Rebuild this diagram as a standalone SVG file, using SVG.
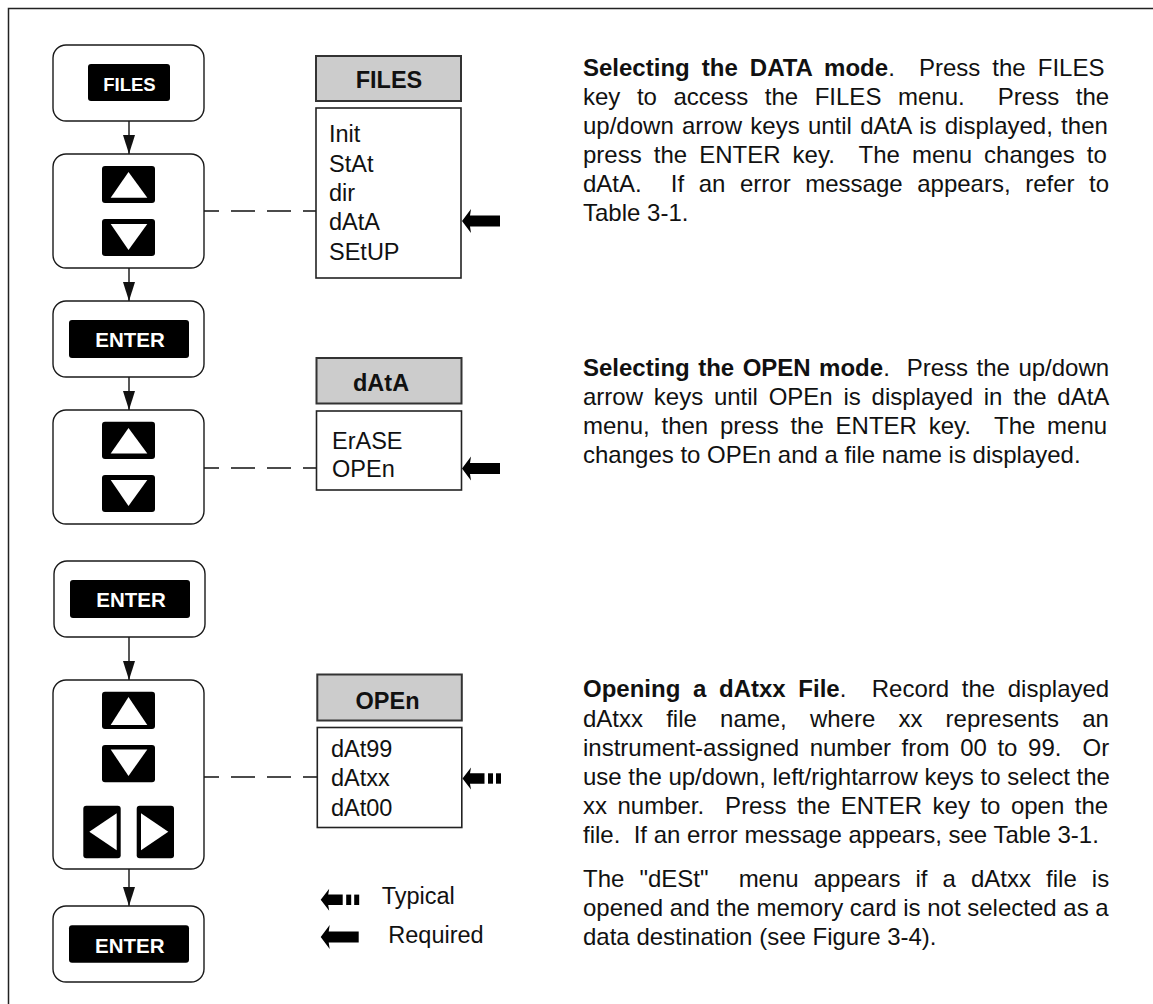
<svg xmlns="http://www.w3.org/2000/svg" width="1153" height="1004" viewBox="0 0 1153 1004">
<style>
.frame{fill:none;stroke:#222;stroke-width:1.5}
.node{fill:#fff;stroke:#1a1a1a;stroke-width:1.4}
.key{fill:#000}
.tri{fill:#fff}
.klabel{font-family:"Liberation Sans",Arial,sans-serif;font-weight:bold;fill:#fff;text-anchor:middle}
.hdr{fill:#cccccc;stroke:#333;stroke-width:2}
.list{fill:#fff;stroke:#222;stroke-width:1.6}
.hdrt{font-family:"Liberation Sans",Arial,sans-serif;font-weight:bold;font-size:23.5px;fill:#111}
.item{font-family:"Liberation Sans",Arial,sans-serif;font-size:23.5px;fill:#111}
.para{font-family:"Liberation Sans",Arial,sans-serif;font-size:24px;fill:#111}
.b{font-weight:bold}
.conn{stroke:#111;stroke-width:1.4;fill:none}
.dash{stroke:#111;stroke-width:1.4;fill:none;stroke-dasharray:15 12 24 12 24 12}
.ptr{fill:#000}
</style>
<defs>
<marker id="ah" markerUnits="userSpaceOnUse" viewBox="0 -7 20 14" markerWidth="20" markerHeight="14" refX="19" refY="0" orient="auto">
<path d="M0,-6 L19,0 L0,6 Z" fill="#111"/>
</marker>
<g id="req"><path class="ptr" d="M0,0 L9,-12 L8,-5.5 L38,-5.5 L38,5.5 L8,5.5 L9,12 Z"/></g>
<g id="typ"><path class="ptr" d="M0,0 L8.5,-11 L7.5,-5.2 L22,-5.2 L22,5.2 L7.5,5.2 L8.5,11 Z"/><rect class="ptr" x="25.5" y="-5.2" width="5" height="10.4"/><rect class="ptr" x="33.5" y="-5.2" width="5" height="10.4"/></g>
</defs>

<path class="frame" d="M8.5,1004 V8.5 H1153"/>

<g id="connectors">
<line class="conn" x1="129" y1="121" x2="129" y2="154" marker-end="url(#ah)"/>
<line class="conn" x1="129" y1="268" x2="129" y2="301" marker-end="url(#ah)"/>
<line class="conn" x1="129" y1="377" x2="129" y2="410" marker-end="url(#ah)"/>
<line class="conn" x1="129" y1="637" x2="129" y2="680" marker-end="url(#ah)"/>
<line class="conn" x1="129" y1="869" x2="129" y2="906" marker-end="url(#ah)"/>
<line class="dash" x1="204" y1="211" x2="316" y2="211"/>
<line class="dash" x1="204" y1="468" x2="316" y2="468"/>
<line class="dash" x1="204" y1="777" x2="317" y2="777"/>
</g>

<g id="key-files">
<rect class="node" x="53" y="45" width="151" height="76" rx="13"/>
<rect class="key" x="88" y="64" width="82" height="37" rx="3"/>
<text class="klabel" x="129.5" y="90.5" font-size="18.5">FILES</text>
</g>

<g id="key-updown-1">
<rect class="node" x="53" y="154" width="151" height="114" rx="13"/>
<rect class="key" x="102" y="166" width="53" height="37" rx="3"/>
<path class="tri" d="M128.5,172 L147.3,197.7 L110.7,197.7 Z"/>
<rect class="key" x="102" y="219" width="53" height="37" rx="3"/>
<path class="tri" d="M110.7,224 L147.3,224 L128.5,250 Z"/>
</g>

<g id="key-enter-1">
<rect class="node" x="53" y="301" width="151" height="76" rx="13"/>
<rect class="key" x="69" y="320" width="120" height="38" rx="3"/>
<text class="klabel" x="130" y="346.5" font-size="20.5">ENTER</text>
</g>

<g id="key-updown-2">
<rect class="node" x="53" y="410" width="151" height="114" rx="13"/>
<rect class="key" x="102" y="421.7" width="53" height="37.3" rx="3"/>
<path class="tri" d="M128.5,428 L147.3,453.5 L110.7,453.5 Z"/>
<rect class="key" x="102" y="475" width="53" height="37" rx="3"/>
<path class="tri" d="M110.7,480 L147.3,480 L128.5,506 Z"/>
</g>

<g id="key-enter-2">
<rect class="node" x="54" y="561" width="151" height="76" rx="13"/>
<rect class="key" x="70" y="580" width="120" height="38" rx="3"/>
<text class="klabel" x="131" y="606.5" font-size="20.5">ENTER</text>
</g>

<g id="key-arrows-3">
<rect class="node" x="53" y="680" width="151" height="189" rx="13"/>
<rect class="key" x="102" y="691.7" width="53" height="37.3" rx="3"/>
<path class="tri" d="M128.5,697 L147.3,725 L110.7,725 Z"/>
<rect class="key" x="102" y="745" width="53" height="37.3" rx="3"/>
<path class="tri" d="M110.7,749.5 L147.3,749.5 L128.5,776 Z"/>
<rect class="key" x="83.3" y="805.7" width="37.4" height="52.6" rx="3"/>
<path class="tri" d="M89.3,831.8 L116.7,813.3 L116.7,850.3 Z"/>
<rect class="key" x="136.7" y="805.7" width="37.3" height="52.6" rx="3"/>
<path class="tri" d="M141,813.3 L168.3,831.8 L141,850.3 Z"/>
</g>

<g id="key-enter-3">
<rect class="node" x="53" y="906" width="151" height="76" rx="13"/>
<rect class="key" x="69" y="925.3" width="120" height="37.4" rx="3"/>
<text class="klabel" x="129.7" y="953" font-size="20.5">ENTER</text>
</g>

<g id="menu-files">
<rect class="hdr" x="316" y="56" width="145" height="45"/>
<text class="hdrt" x="389" y="87.5" text-anchor="middle">FILES</text>
<rect class="list" x="316" y="108" width="145" height="170"/>
<text class="item" x="329" y="142">Init</text>
<text class="item" x="329" y="171.5">StAt</text>
<text class="item" x="329" y="201">dir</text>
<text class="item" x="329" y="230">dAtA</text>
<text class="item" x="329" y="259.5">SEtUP</text>
<use href="#req" x="462" y="221"/>
</g>

<g id="menu-data">
<rect class="hdr" x="316.5" y="358" width="145" height="45.5"/>
<text class="hdrt" x="353" y="391">dAtA</text>
<rect class="list" x="316.5" y="411" width="145" height="79"/>
<text class="item" x="332" y="448.5">ErASE</text>
<text class="item" x="332" y="477">OPEn</text>
<use href="#req" x="462" y="468.5"/>
</g>

<g id="menu-open">
<rect class="hdr" x="317.3" y="674.5" width="144.5" height="46"/>
<text class="hdrt" x="387.5" y="708.5" text-anchor="middle">OPEn</text>
<rect class="list" x="317.3" y="727.5" width="144.5" height="100"/>
<text class="item" x="331" y="756.5">dAt99</text>
<text class="item" x="331" y="786">dAtxx</text>
<text class="item" x="331" y="815.5">dAt00</text>
<use href="#typ" x="462.5" y="778.5"/>
</g>

<g id="legend">
<use href="#typ" x="320.7" y="899.8"/>
<text class="item" x="381.7" y="904">Typical</text>
<use href="#req" x="320.7" y="937"/>
<text class="item" x="388.3" y="943.3">Required</text>
</g>

<g id="text-data">
<text class="para" xml:space="preserve" x="583" y="76" word-spacing="5.4"><tspan class="b">Selecting the DATA mode</tspan>.  Press the FILES</text>
<text class="para" xml:space="preserve" x="583" y="105" word-spacing="9.9">key to access the FILES menu.  Press the</text>
<text class="para" xml:space="preserve" x="583" y="134" word-spacing="1.6">up/down arrow keys until dAtA is displayed, then</text>
<text class="para" xml:space="preserve" x="583" y="163" word-spacing="5.4">press the ENTER key.  The menu changes to</text>
<text class="para" xml:space="preserve" x="583" y="192" word-spacing="7.9">dAtA.  If an error message appears, refer to</text>
<text class="para" xml:space="preserve" x="583" y="221">Table 3-1.</text>
</g>

<g id="text-open">
<text class="para" xml:space="preserve" x="583" y="376" word-spacing="1.8"><tspan class="b">Selecting the OPEN mode</tspan>.  Press the up/down</text>
<text class="para" xml:space="preserve" x="583" y="405" word-spacing="4.1">arrow keys until OPEn is displayed in the dAtA</text>
<text class="para" xml:space="preserve" x="583" y="434" word-spacing="5.1">menu, then press the ENTER key.  The menu</text>
<text class="para" xml:space="preserve" x="583" y="463">changes to OPEn and a file name is displayed.</text>
</g>

<g id="text-file">
<text class="para" xml:space="preserve" x="583" y="697" word-spacing="6"><tspan class="b">Opening a dAtxx File</tspan>.  Record the displayed</text>
<text class="para" xml:space="preserve" x="583" y="726.5" word-spacing="16.5">dAtxx file name, where xx represents an</text>
<text class="para" xml:space="preserve" x="583" y="755.5" word-spacing="3.9">instrument-assigned number from 00 to 99.  Or</text>
<text class="para" xml:space="preserve" x="583" y="785">use the up/down, left/rightarrow keys to select the</text>
<text class="para" xml:space="preserve" x="583" y="814" word-spacing="3.8">xx number.  Press the ENTER key to open the</text>
<text class="para" xml:space="preserve" x="583" y="843">file.  If an error message appears, see Table 3-1.</text>
<text class="para" xml:space="preserve" x="583" y="887" word-spacing="8.4">The "dESt"  menu appears if a dAtxx file is</text>
<text class="para" xml:space="preserve" x="583" y="916">opened and the memory card is not selected as a</text>
<text class="para" xml:space="preserve" x="583" y="945">data destination (see Figure 3-4).</text>
</g>
</svg>
